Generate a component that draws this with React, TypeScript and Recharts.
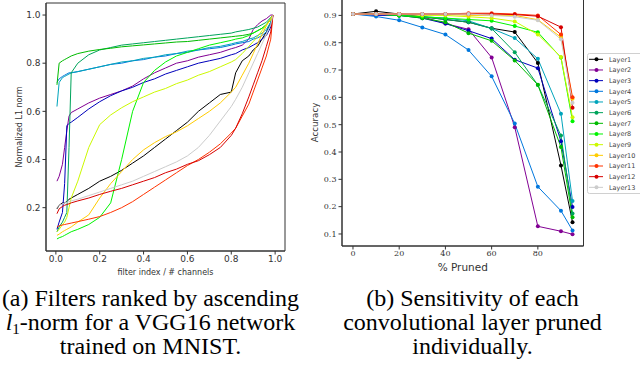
import React from 'react';
import { LineChart, Line, XAxis, YAxis, ReferenceArea, Legend } from 'recharts';

const layerNames = ['Layer1', 'Layer2', 'Layer3', 'Layer4', 'Layer5', 'Layer6', 'Layer7', 'Layer8', 'Layer9', 'Layer10', 'Layer11', 'Layer12', 'Layer13'];
const layerColors = ['#000000', '#820093', '#0000bb', '#0077dd', '#00a4bb', '#00a45b', '#00bb00', '#00f400', '#ccf900', '#ffcc00', '#ff3300', '#d70000', '#cccccc'];

// (a) normalized L1 norm vs filter index / # channels
const filterFraction = [0.005, 0.015, 0.03, 0.04, 0.05, 0.06, 0.07, 0.1, 0.15, 0.2, 0.25, 0.3, 0.35, 0.4, 0.45, 0.5, 0.55, 0.6, 0.65, 0.7, 0.75, 0.8, 0.82, 0.85, 0.88, 0.9, 0.92, 0.94, 0.96, 0.98, 0.99];
const normLayer1 = [0.195, 0.21, 0.22, 0.22, 0.225, 0.235, 0.24, 0.255, 0.28, 0.31, 0.33, 0.355, 0.385, 0.415, 0.45, 0.485, 0.52, 0.555, 0.6, 0.635, 0.67, 0.68, 0.76, 0.81, 0.83, 0.855, 0.87, 0.9, 0.93, 0.97, 1.0];
const normLayer2 = [0.31, 0.33, 0.38, 0.45, 0.52, 0.58, 0.595, 0.61, 0.635, 0.655, 0.67, 0.685, 0.705, 0.735, 0.76, 0.78, 0.8, 0.81, 0.825, 0.835, 0.845, 0.86, 0.865, 0.875, 0.9, 0.94, 0.96, 0.975, 0.985, 1.0, 1.0];
const normLayer3 = [0.11, 0.14, 0.18, 0.3, 0.54, 0.55, 0.555, 0.575, 0.61, 0.64, 0.665, 0.685, 0.7, 0.72, 0.735, 0.755, 0.77, 0.785, 0.8, 0.81, 0.82, 0.835, 0.84, 0.855, 0.865, 0.875, 0.885, 0.9, 0.915, 0.95, 1.0];
const normLayer4 = [0.72, 0.735, 0.745, 0.75, 0.755, 0.76, 0.76, 0.765, 0.775, 0.785, 0.795, 0.8, 0.81, 0.815, 0.825, 0.83, 0.84, 0.845, 0.855, 0.86, 0.865, 0.875, 0.88, 0.885, 0.89, 0.9, 0.905, 0.915, 0.93, 0.96, 1.0];
const normLayer5 = [0.62, 0.72, 0.74, 0.745, 0.75, 0.755, 0.76, 0.765, 0.775, 0.785, 0.795, 0.805, 0.81, 0.82, 0.825, 0.835, 0.84, 0.85, 0.855, 0.865, 0.87, 0.88, 0.885, 0.89, 0.9, 0.905, 0.915, 0.925, 0.94, 0.97, 1.0];
const normLayer6 = [0.1, 0.12, 0.14, 0.16, 0.18, 0.45, 0.76, 0.8, 0.835, 0.855, 0.865, 0.875, 0.88, 0.885, 0.89, 0.895, 0.9, 0.905, 0.91, 0.915, 0.92, 0.925, 0.93, 0.935, 0.94, 0.945, 0.95, 0.96, 0.97, 0.99, 1.0];
const normLayer7 = [0.71, 0.8, 0.81, 0.815, 0.82, 0.825, 0.83, 0.84, 0.85, 0.857, 0.862, 0.868, 0.872, 0.876, 0.88, 0.884, 0.888, 0.89, 0.895, 0.9, 0.905, 0.91, 0.912, 0.915, 0.92, 0.925, 0.935, 0.945, 0.96, 0.985, 1.0];
const normLayer8 = [0.07, 0.075, 0.08, 0.085, 0.09, 0.095, 0.1, 0.11, 0.13, 0.16, 0.22, 0.4, 0.6, 0.72, 0.77, 0.805, 0.83, 0.845, 0.86, 0.875, 0.885, 0.895, 0.9, 0.905, 0.915, 0.925, 0.935, 0.945, 0.96, 0.98, 1.0];
const normLayer9 = [0.1, 0.11, 0.13, 0.14, 0.16, 0.2, 0.24, 0.31, 0.45, 0.545, 0.585, 0.615, 0.64, 0.66, 0.68, 0.695, 0.715, 0.73, 0.75, 0.765, 0.785, 0.805, 0.815, 0.84, 0.87, 0.89, 0.91, 0.935, 0.96, 0.98, 1.0];
const normLayer10 = [0.085, 0.09, 0.1, 0.105, 0.11, 0.115, 0.12, 0.14, 0.17, 0.24, 0.3, 0.35, 0.4, 0.44, 0.47, 0.495, 0.515, 0.54, 0.57, 0.6, 0.635, 0.68, 0.7, 0.75, 0.8, 0.84, 0.88, 0.92, 0.955, 0.985, 1.0];
const normLayer11 = [0.12, 0.125, 0.128, 0.13, 0.132, 0.134, 0.136, 0.142, 0.152, 0.163, 0.18, 0.2, 0.225, 0.255, 0.285, 0.315, 0.345, 0.375, 0.4, 0.43, 0.465, 0.51, 0.53, 0.58, 0.63, 0.68, 0.73, 0.78, 0.83, 0.9, 1.0];
const normLayer12 = [0.175, 0.195, 0.205, 0.21, 0.213, 0.216, 0.22, 0.228, 0.24, 0.255, 0.268, 0.28, 0.295, 0.31, 0.325, 0.345, 0.36, 0.38, 0.395, 0.42, 0.45, 0.5, 0.53, 0.59, 0.66, 0.71, 0.76, 0.81, 0.87, 0.93, 1.0];
const normLayer13 = [0.2, 0.21, 0.215, 0.22, 0.222, 0.225, 0.228, 0.235, 0.25, 0.265, 0.28, 0.295, 0.31, 0.33, 0.35, 0.37, 0.39, 0.415, 0.45, 0.5, 0.56, 0.62, 0.65, 0.7, 0.76, 0.8, 0.84, 0.88, 0.92, 0.96, 1.0];
const normByLayer = [normLayer1, normLayer2, normLayer3, normLayer4, normLayer5, normLayer6, normLayer7, normLayer8, normLayer9, normLayer10, normLayer11, normLayer12, normLayer13];

// (b) accuracy vs % pruned
const prunedPercent = [0, 10, 20, 30, 40, 50, 60, 70, 80, 90, 95];
const accLayer1 = [0.905, 0.915, 0.905, 0.895, 0.885, 0.875, 0.853, 0.839, 0.726, 0.351, 0.143];
const accLayer2 = [0.905, 0.905, 0.9, 0.895, 0.87, 0.849, 0.746, 0.491, 0.128, 0.11, 0.099];
const accLayer3 = [0.905, 0.9, 0.9, 0.89, 0.87, 0.844, 0.815, 0.738, 0.707, 0.439, 0.199];
const accLayer4 = [0.905, 0.896, 0.882, 0.856, 0.83, 0.773, 0.677, 0.504, 0.273, 0.185, 0.113];
const accLayer5 = [0.905, 0.905, 0.9, 0.895, 0.89, 0.88, 0.852, 0.817, 0.741, 0.54, 0.221];
const accLayer6 = [0.905, 0.905, 0.9, 0.895, 0.885, 0.875, 0.852, 0.765, 0.645, 0.46, 0.175];
const accLayer7 = [0.905, 0.905, 0.9, 0.89, 0.875, 0.835, 0.807, 0.735, 0.646, 0.418, 0.161];
const accLayer8 = [0.905, 0.905, 0.9, 0.895, 0.89, 0.885, 0.88, 0.861, 0.838, 0.746, 0.513];
const accLayer9 = [0.905, 0.905, 0.905, 0.9, 0.9, 0.895, 0.89, 0.878, 0.83, 0.748, 0.527];
const accLayer10 = [0.905, 0.905, 0.905, 0.905, 0.905, 0.9, 0.9, 0.9, 0.884, 0.82, 0.595];
const accLayer11 = [0.905, 0.905, 0.905, 0.905, 0.905, 0.908, 0.908, 0.905, 0.9, 0.83, 0.6];
const accLayer12 = [0.905, 0.905, 0.905, 0.905, 0.905, 0.905, 0.905, 0.903, 0.897, 0.857, 0.562];
const accLayer13 = [0.905, 0.905, 0.905, 0.905, 0.905, 0.905, 0.9, 0.895, 0.882, 0.813, 0.58];
const accByLayer = [accLayer1, accLayer2, accLayer3, accLayer4, accLayer5, accLayer6, accLayer7, accLayer8, accLayer9, accLayer10, accLayer11, accLayer12, accLayer13];

const normTicksX = [0, 0.2, 0.4, 0.6, 0.8, 1.0];
const normTicksY = [0.2, 0.4, 0.6, 0.8, 1.0];
const prunedTicks = [0, 20, 40, 60, 80];
const accTicks = [0.1, 0.2, 0.3, 0.4, 0.5, 0.6, 0.7, 0.8, 0.9];

const normDomainX = [-0.045, 1.045];
const normDomainY = [0.02, 1.05];
const prunedDomain = [-4.75, 99.75];
const accDomain = [0.056, 0.96];

const normData = filterFraction.map((f, i) => {
  const row: any = { f };
  layerNames.forEach((n, k) => { row[n] = normByLayer[k][i]; });
  return row;
});
const accData = prunedPercent.map((p, i) => {
  const row: any = { p };
  layerNames.forEach((n, k) => { row[n] = accByLayer[k][i]; });
  return row;
});

const sans = 'DejaVu Sans, sans-serif';
const axisColor = '#333';

const LegendBox = (props: any) => {
  const payload = [...(props.payload || [])].sort(
    (a: any, b: any) => layerNames.indexOf(String(a.value)) - layerNames.indexOf(String(b.value))
  );
  const rowH = 10.67;
  return (
    <svg width={60} height={142} style={{ display: 'block' }}>
      <rect x={0.5} y={0.5} width={70} height={140} rx={2} fill="#fff" stroke="#d0d0d0" strokeWidth={1} />
      {payload.map((e: any, i: number) => {
        const cy = 6.3 + i * rowH;
        return (
          <g key={i}>
            <line x1={2} x2={16} y1={cy} y2={cy} stroke={e.color} strokeWidth={1} />
            <circle cx={9.5} cy={cy} r={2} fill={e.color} />
            <text x={22} y={cy + 2.2} fontSize={6.5} fontFamily={sans} fill="#444">{e.value}</text>
          </g>
        );
      })}
    </svg>
  );
};

export default function App() {
  return (
    <div style={{ position: 'fixed', left: 0, top: 0, width: 640, height: 369, overflow: 'hidden', background: '#fff' }}>
      <div style={{ position: 'absolute', left: 0, top: 0 }}>
        <LineChart width={300} height={290} data={normData} margin={{ top: 3, right: 15, left: 0, bottom: 0 }}>
          <XAxis dataKey="f" type="number" domain={normDomainX} ticks={normTicksX} allowDataOverflow
            tickFormatter={(v: number) => v.toFixed(1)} height={39} tickSize={3.5} tickMargin={1}
            stroke={axisColor} tick={{ fontSize: 9, fill: '#333', fontFamily: sans }}
            label={{ value: 'filter index / # channels', position: 'insideBottom', offset: 15, style: { fontSize: 8, fill: '#333', fontFamily: sans } }} />
          <YAxis type="number" domain={normDomainY} ticks={normTicksY} allowDataOverflow
            tickFormatter={(v: number) => v.toFixed(1)} width={46} tickSize={3.5} tickMargin={2}
            stroke={axisColor} tick={{ fontSize: 9, fill: '#333', fontFamily: sans }}
            label={{ value: 'Normalized L1 norm', angle: -90, position: 'insideLeft', offset: 19, style: { fontSize: 8, fill: '#333', fontFamily: sans, textAnchor: 'middle' } }} />
          <ReferenceArea x1={normDomainX[0]} x2={normDomainX[1]} y1={normDomainY[0]} y2={normDomainY[1]} fill="none" stroke={axisColor} strokeWidth={1} ifOverflow="visible" />
          {layerNames.map((n, k) => (
            <Line key={n} dataKey={n} stroke={layerColors[k]} strokeWidth={1} dot={false} isAnimationActive={false} />
          ))}
        </LineChart>
      </div>
      <div style={{ position: 'absolute', left: 300, top: -1 }}>
        <LineChart width={340} height={291} data={accData} margin={{ top: 0, right: 56.5, left: 0, bottom: 0 }}>
          <XAxis dataKey="p" type="number" domain={prunedDomain} ticks={prunedTicks} allowDataOverflow
            height={44} tickSize={3.5} tickMargin={1}
            stroke={axisColor} tick={{ fontSize: 8, fill: '#333', fontFamily: 'DejaVu Serif, serif' }}
            label={{ value: '% Pruned', position: 'insideBottom', offset: 19, style: { fontSize: 10.5, fill: '#333', fontFamily: sans } }} />
          <YAxis type="number" domain={accDomain} ticks={accTicks} allowDataOverflow
            tickFormatter={(v: number) => v.toFixed(1)} width={42} tickSize={3.5} tickMargin={2}
            stroke={axisColor} tick={{ fontSize: 8, fill: '#333', fontFamily: 'DejaVu Serif, serif' }}
            label={{ value: 'Accuracy', angle: -90, position: 'insideLeft', offset: 15, style: { fontSize: 8.7, fill: '#333', fontFamily: sans, textAnchor: 'middle' } }} />
          <ReferenceArea x1={prunedDomain[0]} x2={prunedDomain[1]} y1={accDomain[0]} y2={accDomain[1]} fill="none" stroke={axisColor} strokeWidth={1} ifOverflow="visible" />
          {layerNames.map((n, k) => (
            <Line key={n} dataKey={n} name={n} stroke={layerColors[k]} strokeWidth={1}
              dot={{ r: 2, fill: layerColors[k], stroke: 'none' }} isAnimationActive={false} />
          ))}
          <Legend layout="vertical" align="center" verticalAlign="middle" content={<LegendBox />}
            wrapperStyle={{ position: 'absolute', left: 287, top: 54, width: 60, height: 142 }} />
        </LineChart>
      </div>
      <div style={{ position: 'absolute', left: 0, top: 286, width: 301, textAlign: 'center', fontFamily: 'Liberation Serif, serif', fontSize: 24, lineHeight: '24px', color: '#000' }}>
        (a) Filters ranked by ascending<br />
        <i>l</i><sub style={{ fontSize: 15, verticalAlign: '-4px', lineHeight: 0 }}>1</sub>-norm for a VGG16 network<br />
        trained on MNIST.
      </div>
      <div style={{ position: 'absolute', left: 320, top: 286, width: 305, textAlign: 'center', fontFamily: 'Liberation Serif, serif', fontSize: 24, lineHeight: '24px', color: '#000' }}>
        (b) Sensitivity of each<br />
        convolutional layer pruned<br />
        individually.
      </div>
    </div>
  );
}
